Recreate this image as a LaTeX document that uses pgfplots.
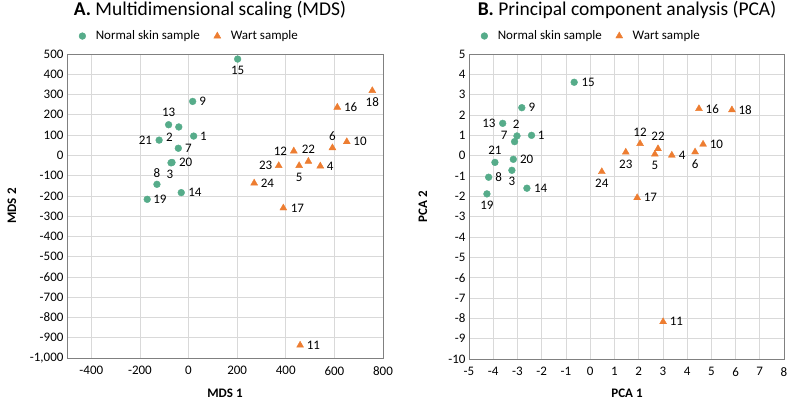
\documentclass[border=0pt]{standalone}
\usepackage{pgfplots}
\usepackage{pgfplotstable}
\pgfplotsset{compat=1.18}
\usepackage{fontspec}
\setmainfont{Carlito}
\definecolor{mgreen}{RGB}{86,172,138}
\definecolor{morange}{RGB}{237,125,49}
\definecolor{gridgray}{RGB}{217,217,217}
\definecolor{framegray}{RGB}{128,128,128}
\newcommand{\sz}{\fontsize{13}{15}\selectfont}

% MDS data: x y label dx dy (label offset in pt)
\pgfplotstableread{
x y lab dx dy
21 95 1 9.7 0
-40 140 2 -9.4 -10.6
-72 -37 3 -1 -11.7
-42 35 7 10 0
-130 -143 8 0 11.7
17 266 9 10 0
-82 151 13 0 12.3
-30 -184 14 13.7 0
202 475 15 0 -11.7
-170 -217 19 12.7 0
-68 -35 20 13.7 0
-121 75 21 -13.7 0
}\mdsnormal
\pgfplotstableread{
x y lab dx dy
542 -53 4 10 0
455 -51 5 0 -11.7
592 37 6 0 11.7
651 67 10 13.3 0
459 -937 11 13.3 0
433 21 12 -13.3 0
612 237 16 13.3 0
390 -260 17 14 0
756 319 18 0 -11
493 -30 22 0 12.3
371 -51 23 -13 0
270 -137 24 13.3 0
}\mdswart
% PCA data
\pgfplotstableread{
x y lab dx dy
-2.42 1.00 1 9.7 0
-3.02 0.97 2 -0.7 11.7
-3.23 -0.72 3 0 -11.3
-3.12 0.69 7 -10.3 6.3
-4.19 -1.06 8 10 0
-2.82 2.36 9 10 0
-3.61 1.59 13 -13.7 0
-2.61 -1.60 14 13.7 0
-0.66 3.61 15 14 0
-4.26 -1.88 19 0 -11.7
-3.17 -0.18 20 13.3 0
-3.93 -0.33 21 0 11.7
}\pcanormal
\pgfplotstableread{
x y lab dx dy
3.37 0.02 4 10.3 0
2.67 0.07 5 0 -11.3
4.33 0.18 6 0 -11.7
4.66 0.56 10 13.3 0
3.01 -8.17 11 13.3 0
2.06 0.59 12 0 11.3
4.49 2.31 16 13.3 0
1.94 -2.07 17 13.3 0.5
5.85 2.25 18 13.3 0
2.80 0.34 22 0 12
1.47 0.17 23 0 -11.7
0.48 -0.79 24 0 -11.7
}\pcawart

\pgfplotsset{
  panel/.style={
    scale only axis,
    anchor=south west,
    axis line style={framegray, line width=0.8pt},
    grid=major,
    major grid style={gridgray, line width=0.6pt},
    major tick length=0pt,
    tick label style={font=\sz, text=black},
    xticklabel style={yshift=-5pt},
    /pgf/number format/assume math mode=true,
    /pgf/number format/1000 sep={,},
    label style={font=\sz\bfseries, text=black, inner sep=0pt},
    every axis title shift=0pt,
    title style={font=\fontsize{19.5}{22}\selectfont, text=black, anchor=center, inner sep=0pt},
    legend columns=2,
    legend style={draw=none, fill=none, inner sep=0pt, outer sep=0pt, anchor=west,
      font=\sz, text=black,
      /tikz/every odd column/.append style={column sep=8pt},
      /tikz/every even column/.append style={column sep=12pt}},
    legend image code/.code={\draw[mark repeat=2,mark phase=2,##1] plot coordinates {(0pt,0pt)(4pt,0pt)(8pt,0pt)};},
  },
  labs/.style={
    nodes near coords, point meta=explicit symbolic,
    visualization depends on={\thisrow{dx}\as\ldx},
    visualization depends on={\thisrow{dy}\as\ldy},
    every node near coord/.style={anchor=center, xshift=\ldx pt, yshift=\ldy pt, text=black, font=\sz, inner sep=0pt},
  },
  normal/.style={only marks, mark=*, mark size=3.4pt, color=mgreen, mark options={draw=mgreen, fill=mgreen}},
  wart/.style={only marks, mark=triangle*, mark size=4pt, color=morange, mark options={draw=morange, fill=morange}},
}

\begin{document}
\begin{tikzpicture}
\useasboundingbox (0,0) rectangle (789pt,402pt);
\begin{axis}[panel,
  at={(67pt,44pt)}, width=316pt, height=304pt,
  xmin=-500, xmax=800, ymin=-1000, ymax=500,
  xtick={-400,-200,0,200,400,600,800},
  ytick={-1000,-900,...,500},
  xlabel={MDS 1}, ylabel={MDS 2},
  xlabel style={at={(axis description cs:0.5,-0.115)}, anchor=center},
  ylabel style={at={(axis description cs:-0.174,0.5)}, anchor=center},
  title={\textbf{A.} Multidimensional scaling (MDS)},
  title style={at={(axis description cs:0.4525,1.145)}},
  legend style={at={(axis description cs:0.038,1.059)}},
]
\addplot[normal, labs] table[meta=lab]{\mdsnormal};
\addlegendentry{Normal skin sample}
\addplot[wart, labs] table[meta=lab]{\mdswart};
\addlegendentry{Wart sample}
\end{axis}
\begin{axis}[panel,
  at={(469pt,43pt)}, width=315pt, height=305pt,
  xmin=-5, xmax=8, ymin=-10, ymax=5,
  xtick={-5,-4,...,8},
  ytick={-10,-9,...,5},
  xlabel={PCA 1}, ylabel={PCA 2},
  xlabel style={at={(axis description cs:0.5016,-0.1115)}, anchor=center},
  ylabel style={at={(axis description cs:-0.146,0.5)}, anchor=center},
  title={\textbf{B.} Principal component analysis (PCA)},
  title style={at={(axis description cs:0.5016,1.144)}},
  legend style={at={(axis description cs:0.038,1.059)}},
]
\addplot[normal, labs] table[meta=lab]{\pcanormal};
\addlegendentry{Normal skin sample}
\addplot[wart, labs] table[meta=lab]{\pcawart};
\addlegendentry{Wart sample}
\end{axis}
\end{tikzpicture}
\end{document}
